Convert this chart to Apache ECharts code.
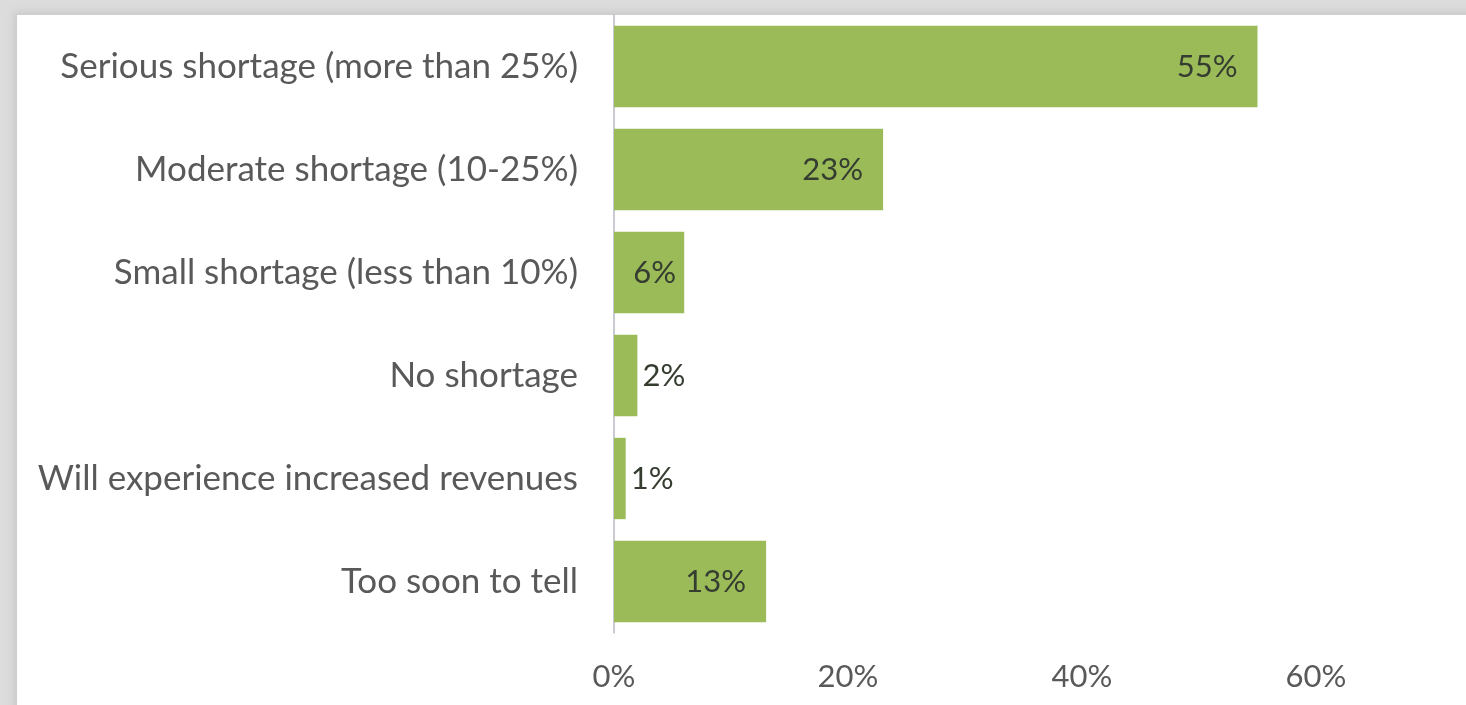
<!DOCTYPE html>
<html><head><meta charset="utf-8">
<script src="https://cdn.jsdelivr.net/npm/echarts@6/dist/echarts.min.js"></script>
<style>
html,body{margin:0;padding:0;width:1466px;height:705px;overflow:hidden;background:#dcdcdc;}
#panel{position:absolute;left:17px;top:15px;width:1460px;height:700px;background:#fff;box-shadow:0 0 8px 3px #c8c8c8;}
#chart{position:absolute;left:0;top:0;width:1466px;height:705px;}
</style></head>
<body>
<div id="panel"></div>
<div id="chart"></div>
<script>
const categories = [
  "Serious shortage (more than 25%)",
  "Moderate shortage (10-25%)",
  "Small shortage (less than 10%)",
  "No shortage",
  "Will experience increased revenues",
  "Too soon to tell"
];
const values = [55, 23, 6, 2, 1, 13];
const xTicks = [0, 20, 40, 60];

const chart = echarts.init(document.getElementById('chart'));
const FONT = 'Lato';
const data = values.map(v => ({
  value: v,
  label: v >= 5
    ? { position: 'insideRight', distance: v >= 10 ? 20 : 8 }
    : { position: 'right', distance: 5 }
}));
chart.setOption({
  animation: false,
  backgroundColor: 'transparent',
  grid: { left: 614, right: 150, top: 15, bottom: 72, containLabel: false },
  xAxis: {
    type: 'value', min: 0, max: 60, interval: 20,
    axisLine: { show: false }, axisTick: { show: false }, splitLine: { show: false },
    axisLabel: {
      margin: 28, color: '#595959', fontFamily: FONT, fontSize: 31,
      formatter: v => xTicks.includes(v) ? v + '%' : ''
    }
  },
  yAxis: {
    type: 'category', inverse: true, data: categories,
    axisLine: { show: true, lineStyle: { color: '#b8b8c4', width: 1.5 } },
    axisTick: { show: false },
    axisLabel: { margin: 36, color: '#595959', fontFamily: FONT, fontSize: 35 }
  },
  series: [{
    type: 'bar', data: data, barCategoryGap: '21%',
    itemStyle: { color: '#9bbb59' },
    label: {
      show: true, formatter: p => p.value + '%',
      color: '#353d30', fontFamily: FONT, fontSize: 31
    }
  }]
});
</script>
</body></html>
